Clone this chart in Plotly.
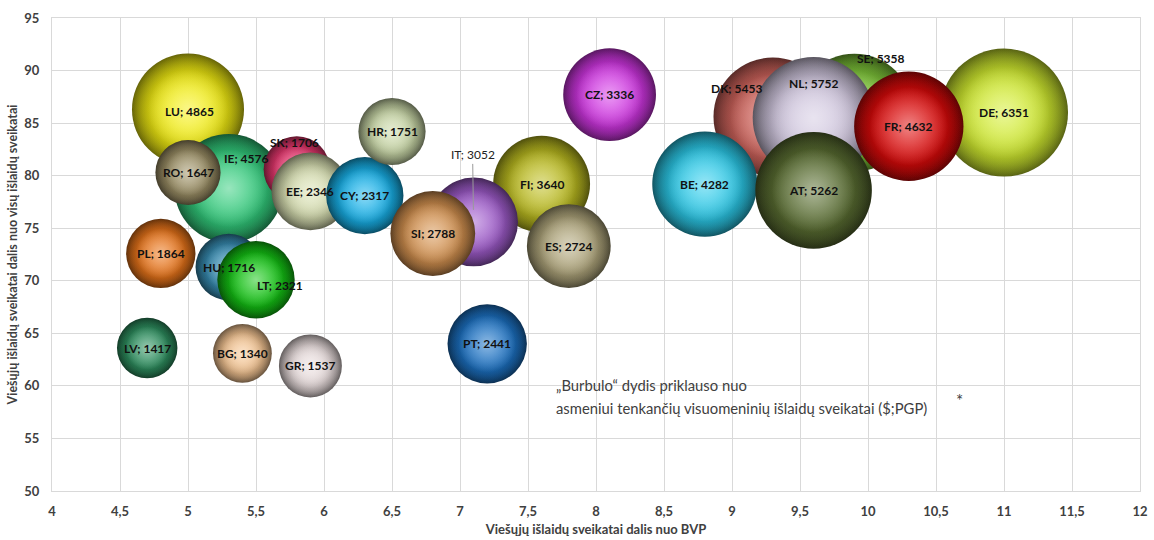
import plotly.graph_objects as go

# ---------------- data (drawing order: earlier = underneath) ----------------
countries = ["DE", "SE", "DK", "NL", "BE", "AT", "FR", "CZ", "LU", "IE", "RO",
             "SK", "EE", "CY", "HR", "PL", "HU", "LT", "LV", "BG", "GR",
             "FI", "IT", "SI", "ES", "PT"]
gdp_share = [11.0, 9.9, 9.3, 9.6, 8.8, 9.6, 10.3, 8.1, 5.0, 5.3, 5.0,
             5.8, 5.9, 6.3, 6.5, 4.8, 5.3, 5.5, 4.7, 5.4, 5.9,
             7.6, 7.1, 6.8, 7.8, 7.2]
public_share = [86.0, 86.0, 85.6, 85.5, 79.2, 78.6, 84.7, 87.7, 86.3, 78.8, 80.3,
                80.6, 78.5, 78.1, 84.2, 72.6, 71.3, 70.1, 63.6, 63.1, 61.9,
                79.2, 75.6, 74.5, 73.3, 64.0]
spend_pc = [6351, 5358, 5453, 5752, 4282, 5262, 4632, 3336, 4865, 4576, 1647,
            1706, 2346, 2317, 1751, 1864, 1716, 2321, 1417, 1340, 1537,
            3640, 3052, 2788, 2724, 2441]

x_tickvals = [4, 4.5, 5, 5.5, 6, 6.5, 7, 7.5, 8, 8.5, 9, 9.5, 10, 10.5, 11, 11.5, 12]
x_ticktext = ["4", "4,5", "5", "5,5", "6", "6,5", "7", "7,5", "8", "8,5", "9",
              "9,5", "10", "10,5", "11", "11,5", "12"]
y_tickvals = [50, 55, 60, 65, 70, 75, 80, 85, 90, 95]
y_ticktext = ["50", "55", "60", "65", "70", "75", "80", "85", "90", "95"]

# ---------------- styles ----------------
base_colors = {
    "DE": "#d2ec30", "SE": "#80c83a", "DK": "#d0645c", "NL": "#d2c8e0",
    "BE": "#2ccbea", "AT": "#5a6e32", "FR": "#dc0a0a", "CZ": "#d236e4",
    "LU": "#f4ee12", "IE": "#32cc7c", "RO": "#9c9066", "SK": "#e6366e",
    "EE": "#d8dfb2", "CY": "#18b2ea", "HR": "#c8d6a6", "PL": "#e8741a",
    "HU": "#378cb2", "LT": "#14c414", "LV": "#2e9060", "BG": "#f4c492",
    "GR": "#e8dcdc", "FI": "#bcbc20", "IT": "#a05ccc", "SI": "#d49250",
    "ES": "#b0a67c", "PT": "#1c72c4",
}
# manual label displacement (pixels) for labels that were moved off-centre
label_shift = {
    "IE": (18, 30), "SK": (-2, 27), "LT": (24, -6), "DK": (-36, 28),
    "NL": (0, 34), "SE": (27, 54), "LU": (1, -2),
}


def rgb(hex_color):
    h = hex_color.lstrip("#")
    return int(h[0:2], 16), int(h[2:4], 16), int(h[4:6], 16)


def mix(hex_color, target, t, alpha=1.0):
    r, g, b = rgb(hex_color)
    tr, tg, tb = target
    r = round(r + (tr - r) * t)
    g = round(g + (tg - g) * t)
    b = round(b + (tb - b) * t)
    return f"rgba({r},{g},{b},{alpha})"


BLACK, WHITE = (0, 0, 0), (255, 255, 255)
max_diam = 128
sizeref = 2.0 * max(spend_pc) / (max_diam ** 2)
hl = 0.72  # relative diameter of the highlight


def marker_layer(xv, yv, size, edge, center):
    return go.Scatter(
        x=[xv], y=[yv], mode="markers",
        marker=dict(size=[size], sizemode="area", sizeref=sizeref,
                    color=edge, opacity=1, line=dict(width=0),
                    gradient=dict(type="radial", color=center)),
        hoverinfo="skip", showlegend=False, cliponaxis=True)


fig = go.Figure()
for c, xv, yv, sv in zip(countries, gdp_share, public_share, spend_pc):
    base = base_colors[c]
    # shaded sphere: dark rim fading to the base colour
    fig.add_trace(marker_layer(xv, yv, sv, mix(base, BLACK, 0.58), mix(base, BLACK, 0.0)))
    # two transparent-edge base-colour overlays -> flatter body, steeper rim
    fig.add_trace(marker_layer(xv, yv, sv, mix(base, BLACK, 0.0, 0.0), mix(base, BLACK, 0.0, 1.0)))
    fig.add_trace(marker_layer(xv, yv, sv, mix(base, BLACK, 0.0, 0.0), mix(base, BLACK, 0.0, 1.0)))
    # soft highlight
    fig.add_trace(marker_layer(xv, yv, sv * hl ** 2, "rgba(255,255,255,0)",
                               "rgba(255,255,255,0.5)"))

label_font = dict(family="Lato", size=12, color="#111111", weight="bold")
annotations = []
for c, xv, yv, sv in zip(countries, gdp_share, public_share, spend_pc):
    txt = f"{c}; {sv}"
    if c == "IT":
        annotations.append(dict(
            x=xv, y=yv, xref="x", yref="y", text=txt, showarrow=True,
            ax=-1, ay=-67, arrowhead=0, arrowwidth=1, arrowcolor="#9a9a9a",
            standoff=12, font=dict(family="Lato", size=12, color="#222222")))
        continue
    dx, dy = label_shift.get(c, (0, 0))
    annotations.append(dict(
        x=xv, y=yv, xref="x", yref="y", text=txt, showarrow=False,
        xshift=dx, yshift=dy, font=label_font))

note_font = dict(family="Lato", size=14.8, color="#404040")
annotations.append(dict(
    x=7.69, y=60.1, xref="x", yref="y", xanchor="left", yanchor="middle",
    text="„Burbulo“ dydis priklauso nuo", showarrow=False, font=note_font))
annotations.append(dict(
    x=7.69, y=57.9, xref="x", yref="y", xanchor="left", yanchor="middle",
    text="asmeniui tenkančių visuomeninių išlaidų sveikatai ($;PGP)",
    showarrow=False, font=note_font))
annotations.append(dict(
    x=10.67, y=58.6, xref="x", yref="y", xanchor="center", yanchor="middle",
    text="*", showarrow=False, font=dict(family="Lato", size=17, color="#404040")))

tick_font = dict(family="Lato", size=13, color="#404040", weight="bold")
grid = "#d9d9d9"

fig.update_layout(
    width=1154, height=540,
    margin=dict(l=52, r=14, t=18, b=49),
    paper_bgcolor="white", plot_bgcolor="white",
    annotations=annotations,
    xaxis=dict(
        range=[4, 12], tickvals=x_tickvals, ticktext=x_ticktext,
        showgrid=True, gridcolor=grid, gridwidth=1, zeroline=False,
        showline=True, linecolor=grid, linewidth=1, mirror=True,
        ticks="", tickfont=tick_font, ticklabelstandoff=8,
        title=dict(text="Viešųjų išlaidų sveikatai dalis nuo BVP",
                   font=dict(family="Lato", size=13, color="#404040", weight="bold"),
                   standoff=7),
        automargin=False,
    ),
    yaxis=dict(
        range=[50, 95], tickvals=y_tickvals, ticktext=y_ticktext,
        showgrid=True, gridcolor=grid, gridwidth=1, zeroline=False,
        showline=True, linecolor=grid, linewidth=1, mirror=True,
        ticks="", tickfont=tick_font, ticklabelstandoff=9,
        title=dict(text="Viešųjų išlaidų sveikatai dalis nuo visų išlaidų sveikatai",
                   font=dict(family="Lato", size=12.5, color="#404040", weight="bold"),
                   standoff=3),
        automargin=False,
    ),
)

fig.write_html("out.html")
